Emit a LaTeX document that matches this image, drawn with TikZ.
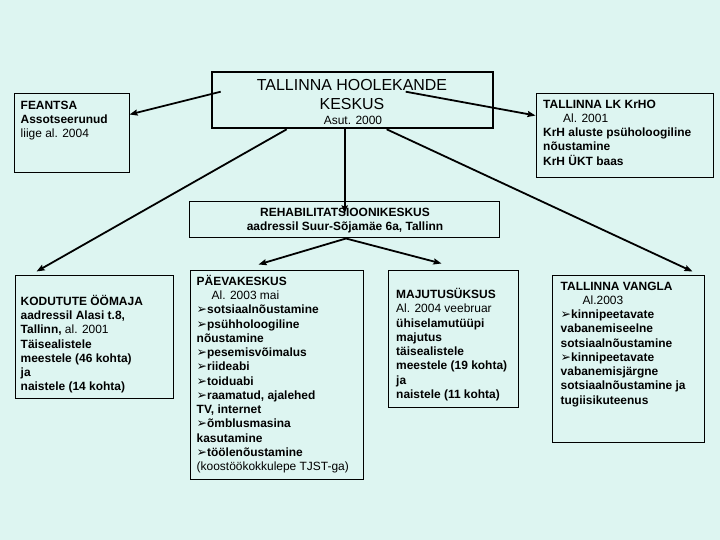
\documentclass[tikz,border=0pt]{standalone}
\usepackage{fontspec}
\setmainfont{Liberation Sans}
\newfontfamily\dejavu{DejaVu Sans}
\usetikzlibrary{arrows.meta,calc,fit}

\definecolor{mint}{RGB}{221,245,241}
\newcommand\bul{{\dejavu\fontsize{12.5}{12}\selectfont ➢}}
\newcommand\nb[1]{{\mdseries #1}}

\begin{document}
\begin{tikzpicture}[x=1bp, y=-1bp,
  box/.style={draw, line width=1bp, inner sep=0pt},
  txt/.style={anchor=north west, inner sep=0pt, align=left, font=\fontsize{12}{14.3}\selectfont\bfseries},
  link/.style={-{Stealth[length=8bp, width=6bp, inset=1bp]}, line width=1.8bp}]
  \useasboundingbox (0,0) rectangle (720,540);
  \fill[mint] (0,0) rectangle (720,540);

  % Top row
  \node[box, line width=2.6bp, fit={(212,72) (493,128)}] (hk) {};
  \node[anchor=north, inner sep=0pt, align=center, font=\fontsize{16}{18.6}\selectfont] (hk-t) at (352,77.7) {\strut TALLINNA HOOLEKANDE\\KESKUS};
  \node[anchor=base, inner sep=0pt, font=\fontsize{12}{14.3}\selectfont] (hk-year) at (353,124.3) {Asut. 2000};

  \node[box, fit={(14,94) (129,173)}] (feantsa) {};
  \node[txt] (feantsa-t) at (20.5,99) {\strut FEANTSA\\Assotseerunud\\\nb{liige al. 2004}};

  \node[box, fit={(536,94) (713,178)}] (krho) {};
  \node[txt] (krho-t) at (543,98) {\strut TALLINNA LK KrHO\\\hspace*{20bp}\nb{Al. 2001}\\KrH aluste psüholoogiline\\nõustamine\\KrH ÜKT baas};

  % Middle
  \node[box, fit={(189,202) (499,238)}] (rehab) {};
  \node[txt, anchor=north, align=center] (rehab-t) at (345,206.5) {\strut REHABILITATSIOONIKESKUS\\aadressil Suur-Sõjamäe 6a, Tallinn};

  % Bottom row
  \node[box, fit={(15,275) (173,398)}] (omaja) {};
  \node[txt] (omaja-t) at (20.5,295) {\strut KODUTUTE ÖÖMAJA\\aadressil Alasi t.8,\\Tallinn, \nb{al. 2001}\\Täisealistele\\meestele (46 kohta)\\ja\\naistele (14 kohta)};

  \node[box, fit={(190,270) (363,479)}] (paev) {};
  \node[txt] (paev-t) at (196.5,275) {\strut PÄEVAKESKUS\\\hspace*{15bp}\nb{Al. 2003 mai}\\\bul sotsiaalnõustamine\\\bul psühholoogiline\\nõustamine\\\bul pesemisvõimalus\\\bul riideabi\\\bul toiduabi\\\bul raamatud, ajalehed\\TV, internet\\\bul õmblusmasina\\kasutamine\\\bul töölenõustamine\\\nb{(koostöökokkulepe TJST-ga)}};

  \node[box, fit={(388,270) (518,407)}] (maj) {};
  \node[txt] (maj-t) at (396,288.3) {\strut MAJUTUSÜKSUS\\\nb{Al. 2004 veebruar}\\ühiselamutüüpi\\majutus\\täisealistele\\meestele (19 kohta)\\ja\\naistele (11 kohta)};

  \node[box, fit={(552,275) (704,442)}] (vangla) {};
  \node[txt] (vangla-t) at (560.5,280) {\strut TALLINNA VANGLA\\\hspace*{22bp}\nb{Al.2003}\\\bul kinnipeetavate\\vabanemiseelne\\sotsiaalnõustamine\\\bul kinnipeetavate\\vabanemisjärgne\\sotsiaalnõustamine ja\\tugiisikuteenus};

  % Connectors
  \coordinate (hk-a) at ($(hk.north west)+(10,21)$);
  \coordinate (hk-b) at ($(hk.north west)+(195,21)$);
  \coordinate (hk-c) at ($(hk.south west)+(76,0)$);
  \coordinate (hk-d) at ($(hk.south west)+(134,0)$);
  \coordinate (hk-e) at ($(hk.south west)+(176,0)$);
  \coordinate (rehab-s) at ($(rehab.south)+(2,0)$);

  \draw[link] (hk-a) -- ($(feantsa.north east)+(0,21)$);
  \draw[link] (hk-b) -- ($(krho.north west)+(0,22)$);
  \draw[link] (hk-c) -- ($(omaja.north west)+(22,-3)$);
  \draw[link] (hk-d) -- ($(hk-d |- rehab.north)+(0,12)$);
  \draw[link] (hk-e) -- ($(vangla.north east)+(-12,-3)$);
  \draw[link] (rehab-s) -- ($(paev.north west)+(69,-5)$);
  \draw[link] (rehab-s) -- ($(maj.north west)+(54,-6)$);
\end{tikzpicture}
\end{document}
